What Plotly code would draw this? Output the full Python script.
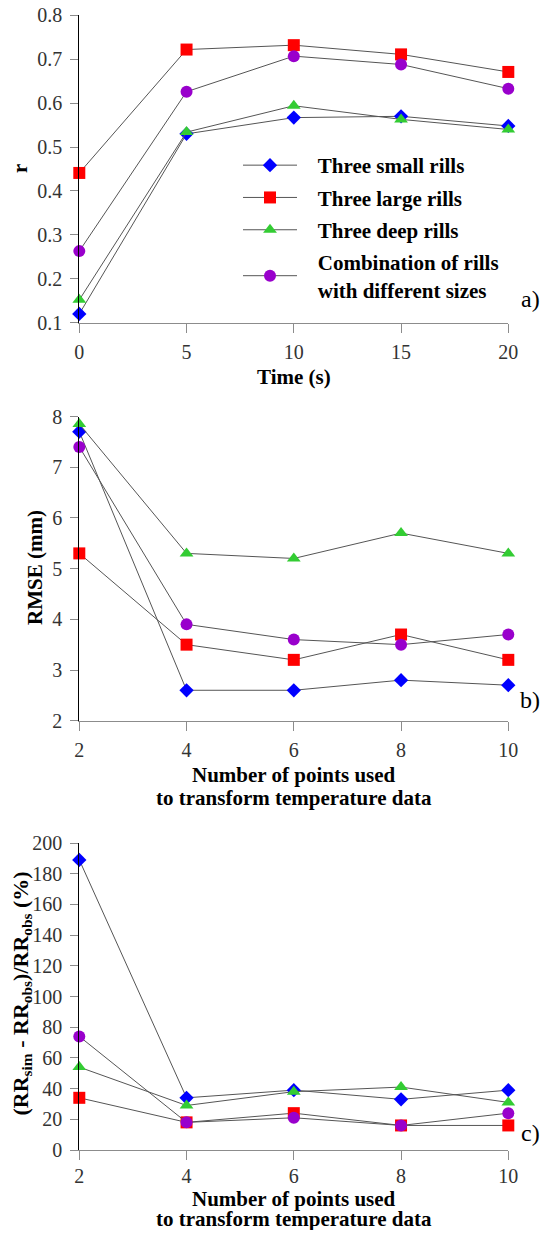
import plotly.graph_objects as go

# ---------------- data ----------------
series_names = ["Three small rills", "Three large rills", "Three deep rills",
                "Combination of rills<br>with different sizes"]

time_s = [0, 5, 10, 15, 20]
r_small = [0.12, 0.53, 0.567, 0.57, 0.548]
r_large = [0.441, 0.722, 0.732, 0.711, 0.671]
r_deep = [0.152, 0.534, 0.594, 0.563, 0.540]
r_comb = [0.263, 0.626, 0.707, 0.688, 0.633]

n_points = [2, 4, 6, 8, 10]
rmse_small = [7.7, 2.6, 2.6, 2.8, 2.7]
rmse_large = [5.3, 3.5, 3.2, 3.7, 3.2]
rmse_deep = [7.85, 5.3, 5.2, 5.7, 5.3]
rmse_comb = [7.4, 3.9, 3.6, 3.5, 3.7]

rr_small = [189, 34, 39, 33, 39]
rr_large = [34, 18, 24, 16, 16]
rr_deep = [54, 29, 38, 41, 31]
rr_comb = [74, 18, 21, 16, 24]

# ---------------- styles ----------------
OFF = 8  # default body margin of the page
W, H = 549 - 2 * OFF, 1238 - 2 * OFF
SERIF = "Times New Roman, Liberation Serif, Tinos, DejaVu Serif, serif"
colors = ["#0000FF", "#FF0000", "#33CC33", "#9900CC"]
symbols = ["diamond", "square", "triangle-up", "circle"]
sizes = [11, 12, 12, 12]
line_col = "#555555"


def px_x(p):
    return (p - OFF) / W


def px_y(p):
    return 1 - (p - OFF) / H


fig = go.Figure()

panels = [
    (time_s, [r_small, r_large, r_deep, r_comb], "x", "y", True),
    (n_points, [rmse_small, rmse_large, rmse_deep, rmse_comb], "x2", "y2", False),
    (n_points, [rr_small, rr_large, rr_deep, rr_comb], "x3", "y3", False),
]
pad = "\u00a0\u00a0\u00a0"
for xs, ys_list, xa, ya, show in panels:
    for i, ys in enumerate(ys_list):
        name = series_names[i].replace("<br>", "<br>" + pad)
        fig.add_trace(go.Scatter(
            x=xs, y=ys, xaxis=xa, yaxis=ya,
            mode="lines+markers", name=pad + name,
            legendgroup=f"g{i}", showlegend=show,
            line=dict(color=line_col, width=1),
            marker=dict(symbol=symbols[i], size=sizes[i], color=colors[i],
                        line=dict(width=0)),
            cliponaxis=False,
        ))

xdom = [px_x(79.3), px_x(508.3)]
tickfont = dict(family=SERIF, size=20, color="#333333")


def xaxis_cfg(rng, dtick, anchor, standoff=2):
    return dict(domain=xdom, range=rng, dtick=dtick, tick0=rng[0],
                showgrid=False, zeroline=False, showline=True, automargin=False,
                linecolor="#8c8c8c", linewidth=1, ticks="outside",
                ticklen=9, tickcolor="#8c8c8c", tickwidth=1,
                ticklabeloverflow="allow",
                tickfont=tickfont, anchor=anchor, ticklabelstandoff=standoff)


def yaxis_cfg(dom, rng, dtick, anchor, fmt=None):
    d = dict(domain=dom, range=rng, dtick=dtick, tick0=rng[0],
             showgrid=False, zeroline=False, showline=True, automargin=False,
             linecolor="#000000", linewidth=1, ticks="outside",
             ticklen=8, tickcolor="#8c8c8c", tickwidth=1,
             ticklabeloverflow="allow",
             tickfont=tickfont, anchor=anchor, ticklabelstandoff=4)
    if fmt:
        d["tickformat"] = fmt
    return d


fig.update_layout(
    template="none",
    width=W, height=H,
    margin=dict(l=0, r=0, t=0, b=0, pad=0),
    paper_bgcolor="white", plot_bgcolor="white",
    font=dict(family=SERIF, color="#000000"),
    showlegend=True,
    xaxis=xaxis_cfg([0, 20], 5, "y"),
    yaxis=yaxis_cfg([px_y(322.7), px_y(15.3)], [0.1, 0.8], 0.1, "x", ".1f"),
    xaxis2=xaxis_cfg([2, 10], 2, "y2"),
    yaxis2=yaxis_cfg([px_y(720.7), px_y(416.5)], [2, 8], 1, "x2"),
    xaxis3=xaxis_cfg([2, 10], 2, "y3", standoff=-1),
    yaxis3=yaxis_cfg([px_y(1150), px_y(843)], [0, 200], 20, "x3"),
    legend=dict(x=px_x(238), y=px_y(145), xanchor="left", yanchor="top",
                font=dict(family=SERIF, size=21, color="#000000", weight="bold"),
                bgcolor="rgba(0,0,0,0)", itemwidth=54, tracegroupgap=2,
                valign="middle", borderwidth=0),
)

title_font = dict(family=SERIF, size=21, color="#000000", weight="bold")
annots = [
    # x titles
    dict(text="Time (s)", x=px_x(294), y=px_y(377)),
    dict(text="Number of points used", x=px_x(294), y=px_y(775)),
    dict(text="to transform temperature data", x=px_x(294), y=px_y(798)),
    dict(text="Number of points used", x=px_x(294), y=px_y(1198.5)),
    dict(text="to transform temperature data", x=px_x(294), y=px_y(1218.5)),
    # y titles
    dict(text="r", x=px_x(20), y=px_y(169), textangle=-90),
    dict(text="RMSE (mm)", x=px_x(35), y=px_y(568), textangle=-90),
]
for a in annots:
    fig.add_annotation(xref="paper", yref="paper", showarrow=False,
                       xanchor="center", yanchor="middle", font=title_font, **a)

fig.add_annotation(
    text="(RR<sub>sim</sub> - RR<sub>obs</sub>)/RR<sub>obs</sub> (%)",
    xref="paper", yref="paper", x=px_x(21.5), y=px_y(994), textangle=-90,
    showarrow=False, xanchor="center", yanchor="middle",
    font=dict(family=SERIF, size=22, color="#000000", weight="bold"))

panel_font = dict(family=SERIF, size=24, color="#000000")
for txt, xp, yp in [("a)", 530.5, 298.7), ("b)", 530, 700), ("c)", 530.5, 1133)]:
    fig.add_annotation(text=txt, xref="paper", yref="paper", x=px_x(xp), y=px_y(yp),
                       showarrow=False, xanchor="center", yanchor="middle",
                       font=panel_font)

fig.write_html("out.html")
